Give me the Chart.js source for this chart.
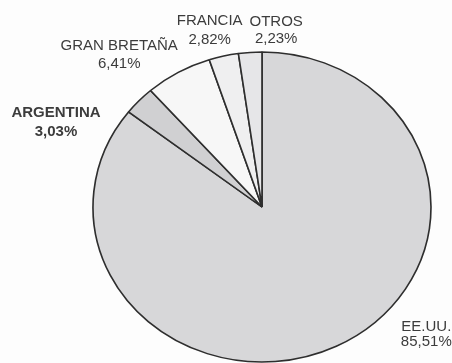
<!DOCTYPE html>
<html lang="es">

<head>
    <meta charset="UTF-8">
    <title>Participación por país</title>
    <script src="https://cdn.jsdelivr.net/npm/chart.js"></script>
    <style>
        body { margin: 0; background: #fdfdfd; }
        .grafico { position: relative; width: 452px; height: 363px; }
    </style>
</head>

<body>
    <div class="grafico">
        <canvas id="paisesChart"></canvas>
    </div>

    <script>
        const paises = ['EE.UU.', 'ARGENTINA', 'GRAN BRETAÑA', 'FRANCIA', 'OTROS'];
        const porcentajes = [85.51, 3.03, 6.41, 2.82, 2.23];
        const colores = ['#d7d7d9', '#d0d0d2', '#f7f7f7', '#efeff0', '#e6e6e8'];

        // desplazamiento de cada etiqueta respecto del borde de su porción: [dx, dy, interlineado]
        const etiquetaOffset = [[90, -19, 15], [-83, 12, 19], [-59, -27, 18], [-14, -35, 19], [26, -31, 17]];
        const negrita = [false, true, false, false, false];
        const estiramiento = 169 / 155;

        const fmt = v => v.toFixed(2).replace('.', ',') + '%';

        // la torta se ve ovalada: se estira en horizontal alrededor del centro
        const ovalar = {
            id: 'ovalar',
            beforeDatasetsDraw(chart) {
                const arc = chart.getDatasetMeta(0).data[0];
                const ctx = chart.ctx;
                ctx.save();
                ctx.translate(arc.x, arc.y);
                ctx.scale(estiramiento, 1);
                ctx.translate(-arc.x, -arc.y);
            },
            afterDatasetsDraw(chart) {
                chart.ctx.restore();
            }
        };

        const etiquetas = {
            id: 'etiquetas',
            afterDraw(chart) {
                const ctx = chart.ctx;
                ctx.save();
                ctx.fillStyle = '#3c3c3c';
                ctx.textAlign = 'center';
                ctx.textBaseline = 'middle';
                chart.getDatasetMeta(0).data.forEach((arc, i) => {
                    const medio = (arc.startAngle + arc.endAngle) / 2;
                    const bx = arc.x + Math.cos(medio) * arc.outerRadius * estiramiento;
                    const by = arc.y + Math.sin(medio) * arc.outerRadius;
                    const [dx, dy, lh] = etiquetaOffset[i];
                    ctx.font = (negrita[i] ? 'bold ' : '') + '15px "Liberation Sans", Arial, sans-serif';
                    ctx.fillText(paises[i], bx + dx, by + dy);
                    ctx.fillText(fmt(porcentajes[i]), bx + dx, by + dy + lh);
                });
                ctx.restore();
            }
        };

        new Chart(document.getElementById('paisesChart').getContext('2d'), {
            type: 'pie',
            data: {
                labels: paises,
                datasets: [{
                    data: porcentajes,
                    backgroundColor: colores,
                    borderColor: '#2e2e2e',
                    borderWidth: 1.5,
                    hoverOffset: 0
                }]
            },
            options: {
                responsive: true,
                maintainAspectRatio: false,
                animation: false,
                radius: 155,
                layout: { padding: { left: 72, right: 0, top: 51, bottom: 0 } },
                plugins: {
                    legend: { display: false },
                    tooltip: { enabled: false }
                }
            },
            plugins: [ovalar, etiquetas]
        });
    </script>
</body>

</html>
